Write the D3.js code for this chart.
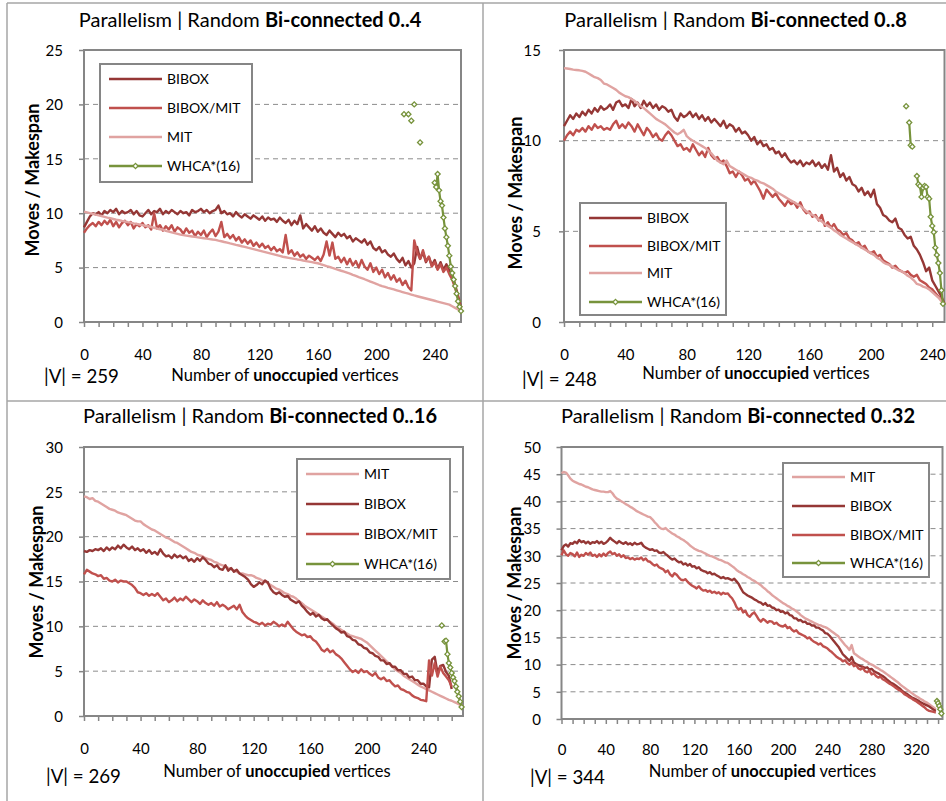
<!DOCTYPE html>
<html>
<head>
<meta charset="utf-8">
<script src="https://cdn.jsdelivr.net/npm/d3@7"></script>
<style>
  body { margin: 0; background: #fff; }
  text { font-family: Lato, "Open Sans", sans-serif; fill: #000; }
</style>
</head>
<body>
<script>
// ---- data: values, x = index * STEP ----
var STEP = 2;
var seriesNames = ["BIBOX", "BIBOX/MIT", "MIT", "WHCA*(16)"];
var xTickLabelStep = 40, xMinorStep = 10;

// panel 1: Bi-connected 0..4, |V| = 259
var p1Bibox = [
  8.7, 9.2, 9.7, 10.0, 9.9, 10.1, 9.8, 10.2, 10.0, 10.3,
  10.1, 10.4, 9.9, 10.2, 10.0, 10.1, 10.3, 9.9, 10.2, 9.8,
  9.7, 10.0, 10.3, 9.9, 10.2, 10.1, 10.4, 9.9, 10.2, 10.0,
  10.3, 10.1, 9.9, 10.2, 10.0, 10.1, 9.8, 10.3, 10.1, 10.2,
  10.4, 10.1, 10.3, 10.0, 10.2, 10.3, 10.7, 10.0, 10.2, 9.9,
  10.0, 9.7, 10.1, 9.8, 9.6, 9.9, 9.7, 9.5, 9.8, 9.6,
  9.4, 9.7, 9.3, 9.6, 9.4, 9.5, 9.2, 9.6, 9.3, 9.1,
  9.4, 8.9, 9.3, 9.0, 9.8, 8.6, 9.0, 8.7, 8.4, 8.8,
  8.3, 8.6, 8.2, 8.0, 8.4, 8.1, 7.8, 8.2, 7.9, 8.1,
  7.7, 7.9, 7.4, 7.7, 7.5, 7.3, 7.6, 7.1, 7.4, 6.8,
  6.6, 6.9, 6.4, 6.6, 6.2, 6.0, 6.3, 5.8, 5.5, 5.9,
  5.2, 5.6, 5.0, 5.4, 6.9, 5.8, 6.4, 5.5, 6.0, 5.2,
  5.7, 4.9, 5.5, 4.8, 5.3, 4.7, 4.4, 3.4, 2.4, 1.3];
var p1BiboxMit = [
  8.2, 8.6, 8.9, 9.1, 8.8, 9.2, 8.9, 9.3, 9.0, 9.4,
  8.8, 9.2, 8.7, 9.1, 9.3, 8.9, 9.2, 8.6, 9.0, 8.8,
  9.1, 8.7, 8.9, 8.5, 10.0, 8.6, 8.9, 8.4, 8.8, 8.5,
  8.9, 8.3, 8.7, 8.5, 8.1, 8.6, 8.2, 8.4, 7.9, 8.3,
  8.0, 8.4, 7.8, 8.2, 8.5, 7.9, 8.3, 9.2, 7.8, 8.1,
  7.7, 8.0, 7.5, 7.8, 7.3, 7.6, 7.2, 7.5, 7.0, 7.3,
  6.9, 7.2, 6.8, 7.0, 6.6, 6.9, 6.5, 6.7, 6.4, 8.0,
  6.3, 6.6, 6.1, 6.4, 6.0, 6.2, 5.8, 6.1, 5.9, 5.7,
  6.0, 5.6, 6.2, 7.4, 6.1, 7.3, 5.8, 6.0, 5.5, 5.9,
  5.3, 5.8, 5.2, 5.6, 5.0, 5.7, 5.1, 4.8, 5.4, 4.6,
  5.0, 4.4, 4.8, 4.1, 4.5, 3.9, 4.3, 3.7, 4.0, 3.4,
  3.8, 3.2, 2.9, 7.5, 6.4, 5.8, 6.6, 5.6, 6.0, 5.1,
  5.5, 4.8, 5.3, 4.6, 5.0, 4.4, 3.9, 3.1, 2.2, 1.2];
var p1Mit = [
  10.15, 10.08, 10.0, 9.95, 9.87, 9.8, 9.74, 9.67, 9.6, 9.54,
  9.47, 9.4, 9.35, 9.29, 9.24, 9.18, 9.13, 9.07, 9.02, 8.96,
  8.91, 8.85, 8.8, 8.73, 8.66, 8.59, 8.52, 8.5, 8.38, 8.31,
  8.24, 8.17, 8.1, 8.03, 7.98, 7.94, 7.9, 7.86, 7.82, 7.78,
  7.74, 7.7, 7.66, 7.62, 7.58, 7.55, 7.48, 7.42, 7.35, 7.29,
  7.22, 7.16, 7.09, 7.03, 6.96, 6.9, 6.83, 6.77, 6.7, 6.63,
  6.56, 6.49, 6.42, 6.35, 6.28, 6.21, 6.14, 6.07, 6.0, 5.95,
  5.9, 5.85, 5.8, 5.75, 5.72, 5.65, 5.6, 5.55, 5.5, 5.45,
  5.4, 5.31, 5.23, 5.14, 5.06, 4.97, 4.89, 4.8, 4.71, 4.63,
  4.54, 4.45, 4.34, 4.24, 4.13, 4.03, 3.93, 3.82, 3.72, 3.61,
  3.51, 3.4, 3.3, 3.22, 3.14, 3.07, 2.99, 2.91, 2.83, 2.75,
  2.67, 2.6, 2.52, 2.44, 2.37, 2.3, 2.23, 2.16, 2.09, 2.02,
  1.95, 1.88, 1.81, 1.74, 1.67, 1.6, 1.45, 1.3, 1.15, 1.0];
var p1WhcaX = [219, 222, 224, 226, 230, 240, 241, 242, 243, 244, 245, 246, 247, 248, 249, 250, 251, 252, 253, 254, 255, 256, 257, 258];
var p1WhcaY = [19.1, 19.1, 18.5, 20.0, 16.5, 12.8, 12.4, 13.6, 12.1, 11.1, 10.7, 9.6, 8.6, 7.8, 7.0, 6.1, 5.1, 4.5, 3.9, 3.3, 2.6, 1.9, 1.4, 1.0];

// panel 2: Bi-connected 0..8, |V| = 248
var p2Bibox = [
  10.8, 11.1, 11.4, 11.2, 11.5, 11.3, 11.6, 11.4, 11.7, 11.5,
  11.8, 11.6, 11.9, 11.7, 11.8, 12.0, 11.7, 12.1, 12.2, 11.9,
  12.0, 11.8, 12.3, 11.9, 12.1, 11.8, 12.2, 11.9, 12.1, 11.8,
  12.0, 11.7, 11.9, 11.8, 11.6, 11.7, 11.3, 11.1, 11.5, 11.3,
  11.4, 11.6, 11.3, 11.5, 11.2, 11.4, 11.1, 11.3, 11.0, 11.2,
  11.0, 10.8, 11.1, 10.7, 10.9, 10.8, 10.5, 10.7, 10.4, 10.5,
  10.3, 10.0, 10.2, 9.8, 10.0, 9.7, 9.8, 9.5, 9.6, 9.3,
  9.4, 9.1, 9.3, 9.0, 8.8, 8.9, 8.7, 8.9, 8.6, 8.8,
  8.7, 8.9, 8.6, 8.8, 8.5, 8.7, 8.4, 9.2, 8.3, 8.5,
  8.0, 8.2, 7.8, 8.0, 7.6, 7.5, 7.2, 7.4, 7.0, 7.2,
  6.9, 7.3, 6.5, 6.3, 5.9, 5.8, 5.6, 5.5, 5.7, 5.2,
  5.1, 4.8, 4.6, 4.7, 4.2, 4.0, 3.7, 3.3, 2.8, 3.0,
  2.3, 2.0, 1.7, 1.4, 1.0];
var p2BiboxMit = [
  10.0, 10.3, 10.5, 10.3, 10.6, 10.5, 10.7, 10.5, 10.8, 10.6,
  10.9, 10.7, 10.8, 10.6, 10.7, 10.6, 10.9, 11.1, 10.7, 10.9,
  10.7, 11.0, 10.8, 10.5, 10.9, 10.6, 10.3, 10.7, 10.5, 10.2,
  10.4, 10.1, 10.0, 10.3, 10.5, 10.3, 10.0, 9.7, 9.8, 9.5,
  9.6, 9.4, 9.8, 9.5, 9.2, 9.4, 9.1, 9.6, 9.2, 9.0,
  9.1, 8.8, 8.9, 8.6, 8.2, 8.3, 8.0, 8.3, 8.1, 7.8,
  7.9, 7.6, 7.8, 7.5, 7.2, 6.8, 7.3, 7.1, 6.9, 7.1,
  6.8, 6.6, 6.4, 6.7, 6.5, 6.6, 6.3, 6.6, 6.2, 6.0,
  6.1, 5.8, 5.9, 5.6, 5.9, 5.3, 5.5, 5.2, 5.4, 5.1,
  5.0, 4.8, 4.9, 4.6, 4.5, 4.3, 4.4, 4.1, 4.2, 3.9,
  3.8, 3.9, 3.6, 3.7, 3.4, 3.3, 3.2, 3.0, 3.1, 2.9,
  2.8, 2.7, 2.8, 2.6, 2.5, 2.6, 2.3, 2.2, 2.1, 1.9,
  1.8, 1.6, 1.4, 1.2, 1.0];
var p2Mit = [
  14.0, 13.98, 13.95, 13.92, 13.9, 13.88, 13.85, 13.8, 13.7, 13.6,
  13.5, 13.45, 13.35, 13.15, 13.1, 13.0, 12.9, 12.8, 12.65, 12.55,
  12.45, 12.4, 12.3, 12.2, 12.05, 11.9, 11.8, 11.65, 11.5, 11.35,
  11.2, 11.1, 11.0, 10.9, 10.75, 10.6, 10.45, 10.35, 10.45, 10.6,
  10.25, 10.1, 10.0, 9.9, 9.8, 9.7, 9.6, 9.45, 9.3, 9.1,
  8.9, 8.8, 8.7, 8.9, 8.6, 8.5, 8.4, 8.3, 8.2, 8.1,
  8.0, 7.95, 7.85, 7.8, 7.7, 7.65, 7.55, 7.45, 7.35, 7.2,
  7.1, 7.0, 6.9, 6.8, 6.7, 6.6, 6.5, 6.4, 6.25, 6.1,
  6.0, 5.9, 5.8, 5.65, 5.55, 5.4, 5.3, 5.2, 5.05, 4.95,
  4.8, 4.7, 4.6, 4.5, 4.4, 4.3, 4.2, 4.1, 4.0, 3.9,
  3.8, 3.7, 3.55, 3.45, 3.3, 3.2, 3.15, 3.05, 2.95, 2.85,
  2.8, 2.7, 2.55, 2.45, 2.3, 2.1, 2.05, 1.95, 1.9, 1.8,
  1.65, 1.5, 1.35, 1.15, 0.95];
var p2WhcaX = [223, 225, 226, 227, 230, 231, 232, 233, 234, 235, 236, 237, 238, 239, 240, 241, 242, 243, 244, 245, 246, 247];
var p2WhcaY = [11.9, 11.0, 9.75, 9.67, 8.05, 7.6, 7.5, 6.9, 7.4, 7.5, 7.45, 6.9, 6.8, 5.8, 5.3, 4.95, 4.1, 3.7, 3.25, 2.7, 1.75, 1.0];

// panel 3: Bi-connected 0..16, |V| = 269
var p3Mit = [
  24.5, 24.4, 24.2, 24.3, 24.0, 23.9, 23.7, 23.5, 23.3, 23.1,
  23.0, 22.9, 22.7, 22.6, 22.5, 22.4, 22.2, 22.0, 21.8, 21.7,
  21.7, 21.4, 21.2, 21.0, 20.8, 20.7, 20.5, 20.3, 20.1, 19.9,
  19.8, 19.6, 19.4, 19.3, 19.1, 18.9, 18.7, 18.5, 18.3, 18.2,
  18.0, 17.9, 17.8, 17.6, 17.5, 17.4, 17.2, 17.1, 16.9, 16.8,
  16.7, 16.5, 16.4, 16.2, 16.1, 15.9, 15.9, 15.8, 15.7, 15.7,
  15.6, 15.4, 15.3, 15.1, 15.0, 14.8, 14.6, 14.4, 14.2, 14.1,
  13.9, 13.7, 13.6, 13.4, 13.3, 13.1, 12.8, 12.6, 12.3, 12.1,
  11.9, 11.7, 11.5, 11.3, 11.1, 10.9, 10.7, 10.5, 10.3, 10.0,
  9.8, 9.6, 9.4, 9.2, 9.0, 8.9, 8.8, 8.7, 8.6, 8.4,
  8.2, 7.9, 7.6, 7.3, 7.0, 6.7, 6.4, 6.1, 5.8, 5.5,
  5.2, 5.0, 4.8, 4.5, 4.3, 4.1, 3.9, 3.7, 3.5, 3.3,
  3.15, 3.0, 2.85, 2.7, 2.55, 2.4, 2.25, 2.1, 1.95, 1.8,
  1.7, 1.55, 1.4, 1.25, 1.1];
var p3Bibox = [
  18.4, 18.3, 18.5, 18.4, 18.6, 18.5, 18.7, 18.4, 18.8, 18.5,
  18.8, 18.6, 19.0, 18.7, 19.1, 18.8, 18.6, 18.9, 18.5, 18.7,
  18.4, 18.6, 18.2, 18.5, 18.1, 18.3, 18.0, 18.6, 18.1, 17.8,
  17.9, 17.6, 18.0, 17.7, 17.9, 17.6, 17.8, 17.3, 17.5, 17.2,
  17.6, 17.3, 17.7, 17.4, 17.0, 16.9, 16.6, 16.8, 16.4, 16.3,
  16.8, 16.2, 16.5, 16.1, 16.3, 15.9, 15.7, 15.5, 15.2, 14.7,
  14.4, 14.6, 14.9, 14.7, 15.1, 14.9, 14.2, 13.8, 13.6, 13.8,
  13.5, 13.3, 13.4, 13.0, 12.8, 12.6, 12.8, 12.3, 12.0, 11.6,
  11.3, 11.5, 11.1, 11.3, 10.9, 10.7, 10.8, 10.4, 10.1, 9.8,
  9.6, 9.3, 9.4, 8.9, 8.8, 8.5, 8.4, 8.0, 7.9, 7.6,
  7.5, 7.1, 7.0, 6.7, 6.6, 6.2, 6.2, 5.8, 5.9, 5.5,
  5.5, 5.1, 5.1, 4.7, 4.7, 4.3, 4.4, 4.0, 4.0, 3.6,
  3.6, 3.3, 3.2, 6.3, 6.6, 4.8, 5.6, 5.7, 4.9, 4.5,
  3.0];
var p3BiboxMit = [
  15.8, 16.3, 16.1, 15.9, 15.8, 15.6, 15.7, 15.3, 15.4, 15.1,
  15.0, 15.2, 14.9, 15.1, 15.0, 15.0, 14.8, 14.6, 14.3, 13.8,
  13.7, 13.5, 13.7, 13.4, 13.6, 13.4, 13.7, 13.3, 12.9, 13.1,
  12.7, 12.9, 13.2, 12.8, 13.1, 12.9, 13.3, 13.0, 12.7, 13.0,
  12.8, 12.5, 12.9, 12.6, 12.4, 12.6, 12.3, 12.7, 12.2, 12.4,
  12.2, 11.9, 12.1, 12.3, 11.9, 12.4, 11.6, 11.2, 10.9, 10.7,
  10.5, 10.4, 10.2, 10.4, 10.1, 10.3, 10.2, 10.5, 10.3, 10.0,
  10.2, 10.0, 10.5, 10.1, 9.7, 9.4, 9.2, 9.0, 9.1, 8.8,
  8.9, 8.5, 8.3, 7.9, 7.4, 7.2, 7.5, 7.1, 7.3, 6.9,
  6.7, 6.4, 6.0, 5.6, 5.2, 4.9, 5.1, 4.8, 5.2, 4.9,
  5.0, 4.7, 4.5, 4.8, 4.3, 4.1, 4.3, 3.9, 4.0, 3.6,
  3.3, 3.4, 3.0, 2.9, 2.7, 2.6, 2.3, 2.1, 2.0, 1.8,
  1.75, 1.65, 6.2, 4.5, 5.9, 4.4, 5.5, 4.8, 4.4, 4.0,
  3.3];
var p3WhcaX = [253, 255, 256, 257, 258, 259, 260, 261, 262, 263, 264, 265, 266, 267];
var p3WhcaY = [10.1, 8.3, 8.4, 6.9, 5.9, 5.4, 4.8, 4.3, 3.9, 3.3, 2.7, 2.2, 1.6, 1.0];

// panel 4: Bi-connected 0..32, |V| = 344
var p4Mit = [
  45.2, 45.4, 45.3, 44.8, 44.2, 43.8, 43.6, 43.4, 43.2, 43.1,
  42.9, 42.7, 42.6, 42.4, 42.2, 42.1, 42.0, 41.9, 41.8, 41.8,
  41.7, 41.7, 41.9, 41.5, 40.9, 40.5, 40.3, 40.0, 39.8, 39.5,
  39.3, 39.0, 38.8, 38.5, 38.2, 38.0, 37.8, 37.6, 37.4, 37.2,
  37.1, 36.7, 36.2, 35.8, 35.3, 35.0, 34.9, 35.1, 34.7, 34.4,
  34.1, 33.9, 33.6, 33.4, 33.1, 32.9, 32.6, 32.3, 31.9, 31.6,
  31.3, 31.1, 30.9, 30.8, 30.6, 30.4, 30.2, 30.0, 29.9, 29.7,
  29.5, 29.3, 29.2, 29.0, 28.8, 28.7, 28.4, 28.1, 27.8, 27.4,
  27.1, 26.9, 26.6, 26.4, 26.1, 25.9, 25.6, 25.4, 25.1, 24.9,
  24.6, 24.2, 23.9, 23.5, 23.2, 22.8, 22.5, 22.2, 21.9, 21.6,
  21.3, 21.1, 20.8, 20.6, 20.3, 20.1, 19.8, 19.5, 19.1, 18.8,
  18.5, 18.3, 18.1, 17.9, 17.7, 17.5, 17.3, 17.2, 17.0, 16.9,
  16.7, 16.4, 16.1, 15.8, 15.5, 15.2, 14.6, 14.1, 13.6, 13.2,
  12.7, 13.6, 12.1, 11.8, 11.5, 11.2, 11.0, 10.7, 10.5, 10.2,
  10.0, 9.8, 9.5, 9.3, 9.0, 8.8, 8.5, 8.2, 7.9, 7.6,
  7.3, 7.0, 6.7, 6.3, 6.0, 5.7, 5.4, 5.1, 4.8, 4.5,
  4.2, 4.0, 3.7, 3.5, 3.2, 3.0, 2.7, 2.4, 2.1, 1.8];
var p4Bibox = [
  31.0, 31.8, 32.1, 31.7, 32.3, 32.2, 32.6, 32.3, 32.9, 32.5,
  32.7, 32.3, 32.6, 32.2, 32.5, 32.4, 32.7, 32.3, 32.6, 32.2,
  32.4, 32.8, 33.3, 32.9, 32.6, 32.3, 32.7, 32.4, 32.2, 32.5,
  32.1, 32.3, 32.0, 32.4, 32.1, 32.2, 32.4, 31.8, 31.5, 31.3,
  31.1, 31.2, 30.9, 31.0, 30.6, 30.5, 30.7, 30.3, 30.0, 29.6,
  29.3, 29.5, 29.1, 28.8, 28.9, 28.4, 28.6, 28.2, 28.5, 28.0,
  28.1, 27.7, 27.9, 27.4, 27.2, 27.1, 26.8, 27.0, 26.6, 26.7,
  26.4, 26.2, 25.9, 26.1, 25.8, 25.9, 25.7, 25.5, 25.8, 25.3,
  24.8, 24.0, 23.3, 23.0, 22.7, 22.5, 22.3, 22.0, 21.8, 21.5,
  21.4, 21.0, 21.3, 20.8, 20.9, 20.5, 20.4, 20.0, 20.1, 19.7,
  19.8, 19.4, 19.6, 19.1, 19.0, 18.5, 18.5, 18.1, 18.2, 17.8,
  17.9, 17.5, 17.5, 17.2, 17.2, 16.8, 16.8, 16.5, 16.3, 15.8,
  15.7, 15.3, 14.8, 14.3, 13.8, 13.3, 12.6, 11.9, 11.5, 11.1,
  10.7, 11.4, 10.4, 10.1, 9.9, 9.7, 9.6, 9.4, 9.5, 9.1,
  9.2, 8.8, 8.6, 8.4, 8.1, 7.9, 7.6, 7.2, 6.9, 6.6,
  6.4, 6.1, 5.8, 5.5, 5.1, 4.8, 4.6, 4.3, 4.0, 3.8,
  3.6, 3.4, 3.1, 2.9, 2.7, 2.5, 2.3, 2.0, 1.7, 1.5];
var p4BiboxMit = [
  30.1, 31.0, 30.3, 30.0, 30.5, 30.3, 29.9, 30.6, 29.8, 30.2,
  30.0, 30.5, 30.2, 30.6, 30.0, 30.2, 29.8, 30.3, 29.9, 30.4,
  30.0, 30.5, 30.8, 30.3, 30.5, 30.0, 30.3, 29.8, 30.1, 29.6,
  29.7, 29.4, 29.6, 29.3, 29.5, 29.4, 29.7, 29.2, 29.5, 29.0,
  28.9, 28.5, 28.2, 28.4, 27.9, 27.7, 27.5, 27.0, 27.3, 26.6,
  26.2, 26.8, 26.5, 26.0, 25.6, 25.5, 25.7, 25.2, 24.8, 24.5,
  24.3, 24.0, 24.4, 23.9, 23.6, 23.7, 23.4, 23.6, 23.2, 23.4,
  23.1, 23.3, 22.9, 23.2, 23.0, 23.1, 22.6, 22.2, 21.5, 20.6,
  20.1, 20.4, 19.6, 19.9, 19.1, 18.8, 19.3, 19.6, 19.0, 18.3,
  17.9, 18.4, 18.1, 17.7, 18.0, 17.9, 17.5, 17.7, 17.3, 17.1,
  17.0, 17.3, 16.7, 16.9, 16.4, 16.1, 16.3, 15.8, 15.6, 15.4,
  15.2, 14.8, 15.0, 14.5, 14.2, 14.0, 13.7, 13.9, 13.4, 13.2,
  13.0, 12.6, 12.3, 11.9, 11.5, 11.2, 11.0, 10.6, 10.8, 10.3,
  10.0, 10.4, 9.7, 9.9, 9.3, 9.1, 9.4, 8.8, 8.6, 8.9,
  8.2, 8.4, 7.9, 7.6, 7.8, 7.3, 7.1, 6.8, 6.5, 6.3,
  6.0, 5.7, 5.4, 5.2, 4.9, 4.5, 4.3, 4.0, 3.8, 3.5,
  3.3, 3.0, 2.7, 2.4, 2.1, 1.7, 1.5, 1.4, 1.3, 1.2];
var p4WhcaX = [339, 340, 341, 342, 343];
var p4WhcaY = [3.3, 2.9, 2.4, 1.8, 1.0];

// ---- styles ----
var colors = {
  "BIBOX": "#953735",
  "BIBOX/MIT": "#C0504D",
  "MIT": "#E0A3A1",
  "WHCA*(16)": "#77933C"
};
var gridColor = "#8c8c8c", axisColor = "#868686";

var svg = d3.select("body").append("svg")
  .attr("width", 946)
  .attr("height", 801);

// panel separators
var frame = svg.append("g").attr("stroke", "#a6a6a6").attr("stroke-width", 1.5);
frame.append("line").attr("x1", 7).attr("x2", 946).attr("y1", 3).attr("y2", 3);
frame.append("line").attr("x1", 7).attr("x2", 946).attr("y1", 401).attr("y2", 401);
frame.append("line").attr("x1", 7).attr("x2", 7).attr("y1", 3).attr("y2", 801);
frame.append("line").attr("x1", 483).attr("x2", 483).attr("y1", 3).attr("y2", 801);

var panels = [
  { left: 84, right: 461, top: 50, bottom: 322, xMax: 258, yMax: 25, yStep: 5,
    titleBold: "Bi-connected 0..4", titleX: 250, titleY: 27, vLabel: "|V| = 259",
    vX: 44, vY: 383, yTitleX: 33, yTitleY: 180, xTitleX: 285, xTitleY: 381, yLabelRight: 63, xLabelDy: 38,
    series: { "BIBOX": p1Bibox, "BIBOX/MIT": p1BiboxMit, "MIT": p1Mit },
    whcaX: p1WhcaX, whcaY: p1WhcaY,
    order: ["BIBOX", "BIBOX/MIT", "MIT", "WHCA*(16)"],
    legend: { x: 100, y: 64, w: 152, h: 118, rows: [79, 108, 137, 166] } },
  { left: 564, right: 944.5, top: 50, bottom: 322, xMax: 248, yMax: 15, yStep: 5,
    titleBold: "Bi-connected 0..8", titleX: 735.5, titleY: 27, vLabel: "|V| = 248",
    vX: 522, vY: 386, yTitleX: 516, yTitleY: 193, xTitleX: 756, xTitleY: 379, yLabelRight: 541, xLabelDy: 38,
    series: { "BIBOX": p2Bibox, "BIBOX/MIT": p2BiboxMit, "MIT": p2Mit },
    whcaX: p2WhcaX, whcaY: p2WhcaY,
    order: ["BIBOX", "BIBOX/MIT", "MIT", "WHCA*(16)"],
    legend: { x: 580, y: 203, w: 146, h: 112, rows: [218, 246, 273, 302] } },
  { left: 84, right: 463, top: 447, bottom: 716, xMax: 268, yMax: 30, yStep: 5,
    titleBold: "Bi-connected 0..16", titleX: 260, titleY: 423, vLabel: "|V| = 269",
    vX: 46, vY: 783, yTitleX: 37, yTitleY: 582, xTitleX: 277, xTitleY: 777, yLabelRight: 63, xLabelDy: 38,
    series: { "BIBOX": p3Bibox, "BIBOX/MIT": p3BiboxMit, "MIT": p3Mit },
    whcaX: p3WhcaX, whcaY: p3WhcaY,
    order: ["MIT", "BIBOX", "BIBOX/MIT", "WHCA*(16)"],
    legend: { x: 297, y: 459, w: 153, h: 120, rows: [474, 504, 534, 564] } },
  { left: 561.5, right: 942.5, top: 447, bottom: 719, xMax: 344, yMax: 50, yStep: 5,
    titleBold: "Bi-connected 0..32", titleX: 738, titleY: 423, vLabel: "|V| = 344",
    vX: 530, vY: 784, yTitleX: 515, yTitleY: 583, xTitleX: 762.5, xTitleY: 777, yLabelRight: 541, xLabelDy: 36,
    series: { "BIBOX": p4Bibox, "BIBOX/MIT": p4BiboxMit, "MIT": p4Mit },
    whcaX: p4WhcaX, whcaY: p4WhcaY,
    order: ["MIT", "BIBOX", "BIBOX/MIT", "WHCA*(16)"],
    legend: { x: 783, y: 463, w: 146, h: 114, rows: [477, 506, 535, 563] } }
];

// small square marker turned 45 degrees
var marker = d3.symbol().type(d3.symbolSquare).size(13);

function drawPanel(p) {
  var x = d3.scaleLinear().domain([0, p.xMax]).range([p.left, p.right]);
  var y = d3.scaleLinear().domain([0, p.yMax]).range([p.bottom, p.top]);
  var g = svg.append("g");

  // dashed gridlines
  g.selectAll("line.grid")
    .data(d3.range(p.yStep, p.yMax, p.yStep))
    .enter().append("line")
    .attr("x1", p.left).attr("x2", p.right)
    .attr("y1", function(d) { return y(d); })
    .attr("y2", function(d) { return y(d); })
    .attr("stroke", gridColor)
    .attr("stroke-width", 1)
    .attr("stroke-dasharray", "5,4");

  // x axis: minor ticks every 10, labels every 40
  var xAxis = g.append("g")
    .attr("transform", "translate(0," + p.bottom + ")")
    .call(d3.axisBottom(x)
      .tickValues(d3.range(0, p.xMax + 0.1, xMinorStep))
      .tickSize(5)
      .tickFormat(function(d) { return d % xTickLabelStep === 0 ? d : ""; }));
  xAxis.select(".domain").remove();
  xAxis.selectAll(".tick line").attr("stroke", axisColor).attr("stroke-width", 1.5);
  xAxis.selectAll(".tick text")
    .attr("y", p.xLabelDy).attr("dy", 0)
    .style("font-family", "Lato, sans-serif").style("font-size", "15px").attr("fill", "#000");

  // y axis
  var yAxis = g.append("g")
    .attr("transform", "translate(" + p.left + ",0)")
    .call(d3.axisLeft(y)
      .tickValues(d3.range(0, p.yMax + 0.1, p.yStep))
      .tickSize(5));
  yAxis.select(".domain").remove();
  yAxis.selectAll(".tick line").attr("stroke", axisColor).attr("stroke-width", 1.5);
  yAxis.selectAll(".tick text")
    .attr("x", p.yLabelRight - p.left).attr("dy", "0.35em")
    .style("font-family", "Lato, sans-serif").style("font-size", "15px").attr("fill", "#000");

  // plot frame
  g.append("rect")
    .attr("x", p.left).attr("y", p.top)
    .attr("width", p.right - p.left).attr("height", p.bottom - p.top)
    .attr("fill", "none").attr("stroke", axisColor).attr("stroke-width", 2);

  // series lines
  var line = d3.line()
    .x(function(d, i) { return x(i * STEP); })
    .y(function(d) { return y(d); });
  p.order.forEach(function(name) {
    if (!p.series[name]) return;
    g.append("path")
      .datum(p.series[name])
      .attr("d", line)
      .attr("fill", "none")
      .attr("stroke", colors[name])
      .attr("stroke-width", 2.4)
      .attr("stroke-linejoin", "round");
  });

  // WHCA: consecutive x values are joined, isolated ones stay as markers
  var pts = [];
  p.whcaX.forEach(function(xv, i) {
    if (i > 0 && xv - p.whcaX[i - 1] > 1) pts.push(null);
    pts.push([xv, p.whcaY[i]]);
  });
  var wLine = d3.line()
    .defined(function(d) { return d !== null; })
    .x(function(d) { return x(d[0]); })
    .y(function(d) { return y(d[1]); });
  g.append("path")
    .datum(pts)
    .attr("d", wLine)
    .attr("fill", "none")
    .attr("stroke", colors["WHCA*(16)"])
    .attr("stroke-width", 2.2);
  g.selectAll("path.mk")
    .data(pts.filter(function(d) { return d !== null; }))
    .enter().append("path")
    .attr("class", "mk")
    .attr("d", marker)
    .attr("transform", function(d) { return "translate(" + x(d[0]) + "," + y(d[1]) + ") rotate(45)"; })
    .attr("fill", "#fff")
    .attr("stroke", colors["WHCA*(16)"])
    .attr("stroke-width", 1.3);

  // legend
  var L = p.legend;
  var lg = g.append("g");
  lg.append("rect")
    .attr("x", L.x).attr("y", L.y).attr("width", L.w).attr("height", L.h)
    .attr("fill", "#fff").attr("stroke", axisColor).attr("stroke-width", 2);
  p.order.forEach(function(name, i) {
    var ry = L.rows[i];
    lg.append("line")
      .attr("x1", L.x + 9).attr("x2", L.x + 62)
      .attr("y1", ry).attr("y2", ry)
      .attr("stroke", colors[name])
      .attr("stroke-width", 2.6);
    if (name === "WHCA*(16)") {
      lg.append("path")
        .attr("d", marker)
        .attr("transform", "translate(" + (L.x + 35.5) + "," + ry + ") rotate(45)")
        .attr("fill", "#fff")
        .attr("stroke", colors[name])
        .attr("stroke-width", 1.3);
    }
    lg.append("text")
      .attr("x", L.x + 67).attr("y", ry + 5)
      .style("font-size", "14px")
      .text(name);
  });

  // title
  var t = g.append("text")
    .attr("x", p.titleX).attr("y", p.titleY)
    .attr("text-anchor", "middle")
    .style("font-size", "20px");
  t.append("tspan").text("Parallelism | Random ");
  t.append("tspan").style("font-weight", "bold").text(p.titleBold);

  // axis titles
  g.append("text")
    .attr("transform", "translate(" + p.yTitleX + "," + p.yTitleY + ") rotate(-90)")
    .attr("text-anchor", "middle")
    .attr("dy", "0.35em")
    .style("font-size", "18px")
    .style("font-weight", "bold")
    .text("Moves / Makespan");

  var xt = g.append("text")
    .attr("x", p.xTitleX).attr("y", p.xTitleY)
    .attr("text-anchor", "middle")
    .style("font-size", "16.5px");
  xt.append("tspan").text("Number of ");
  xt.append("tspan").style("font-weight", "bold").text("unoccupied");
  xt.append("tspan").text(" vertices");

  g.append("text")
    .attr("x", p.vX).attr("y", p.vY)
    .style("font-size", "18.7px")
    .text(p.vLabel);
}

panels.forEach(drawPanel);
</script>
</body>
</html>
